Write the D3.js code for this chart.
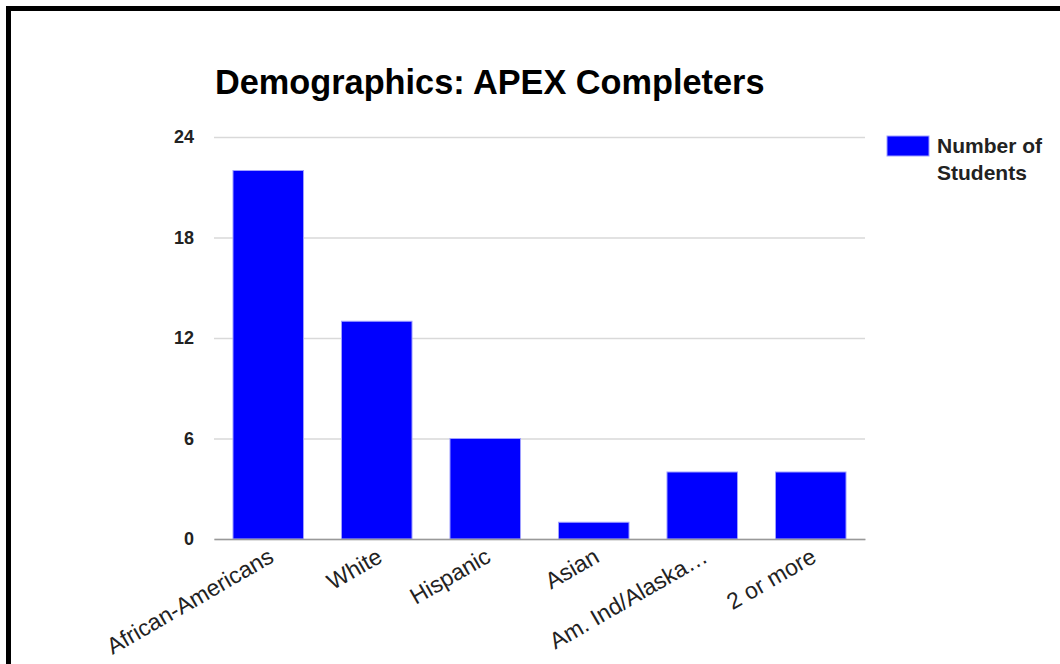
<!DOCTYPE html>
<html><head><meta charset="utf-8">
<script src="https://cdn.jsdelivr.net/npm/d3@7"></script>
<style>body{margin:0;background:#fff}svg{display:block}</style>
</head><body>
<svg id="c" width="1060" height="664"></svg>
<script>
const categories = ["African-Americans","White","Hispanic","Asian","Am. Ind/Alaska…","2 or more"];
const values = [22,13,6,1,4,4];
const yTicks = [0,6,12,18,24];
const seriesName = "Number of Students";
const title = "Demographics: APEX Completers";

(function(){
const svg = d3.select("#c");
svg.append("rect").attr("x",0).attr("y",0).attr("width",1060).attr("height",664).attr("fill","#fff");
svg.append("rect").attr("x",8.5).attr("y",8.5).attr("width",1070).attr("height",680)
  .attr("fill","none").attr("stroke","#000").attr("stroke-width",5);

const pL=214, pR=865, pT=137, pB=539;
const x = d3.scaleBand().domain(categories).range([pL,pR]).paddingInner(0.35).paddingOuter(0.175);
const y = d3.scaleLinear().domain([0,24]).range([pB,pT]);

svg.append("text").attr("x",215).attr("y",94).attr("font-family","Liberation Sans, Arial, sans-serif")
  .attr("font-weight","bold").attr("font-size",34.3).attr("fill","#000").text(title);

const yAxis = svg.append("g").attr("transform",`translate(${pL},0)`)
  .call(d3.axisLeft(y).tickValues(yTicks).tickSize(-(pR-pL)).tickFormat(d3.format("d")).tickPadding(20));
yAxis.select(".domain").remove();
yAxis.selectAll(".tick line").attr("stroke","#d9d9d9").attr("stroke-width",1.5);
yAxis.selectAll(".tick text").attr("font-family","Liberation Sans, Arial, sans-serif")
  .attr("font-weight","bold").attr("font-size",18).attr("fill","#222");

svg.selectAll(".bar").data(values).join("rect").attr("class","bar")
  .attr("x",(d,i)=>x(categories[i])).attr("y",d=>y(d))
  .attr("width",x.bandwidth()).attr("height",d=>pB-y(d))
  .attr("fill","#0000ff").attr("stroke","#a0a0ff").attr("stroke-width",1);

const xAxis = svg.append("g").attr("transform",`translate(0,${pB})`)
  .call(d3.axisBottom(x).tickSize(0).tickPadding(0));
xAxis.select(".domain").attr("stroke","#999").attr("stroke-width",1.5);
xAxis.selectAll(".tick text").attr("font-family","Liberation Sans, Arial, sans-serif")
  .attr("font-size",23).attr("fill","#222").attr("text-anchor","end")
  .attr("dy",0).attr("transform","translate(7,22) rotate(-30)");

svg.append("rect").attr("x",887).attr("y",136).attr("width",42).attr("height",20)
  .attr("fill","#0000ff").attr("stroke","#a0a0ff");
const lt = svg.append("text").attr("font-family","Liberation Sans, Arial, sans-serif")
  .attr("font-weight","bold").attr("font-size",21).attr("fill","#222");
lt.append("tspan").attr("x",937).attr("y",153).text("Number of");
lt.append("tspan").attr("x",937).attr("y",180).text("Students");
})();
</script>
</body></html>
